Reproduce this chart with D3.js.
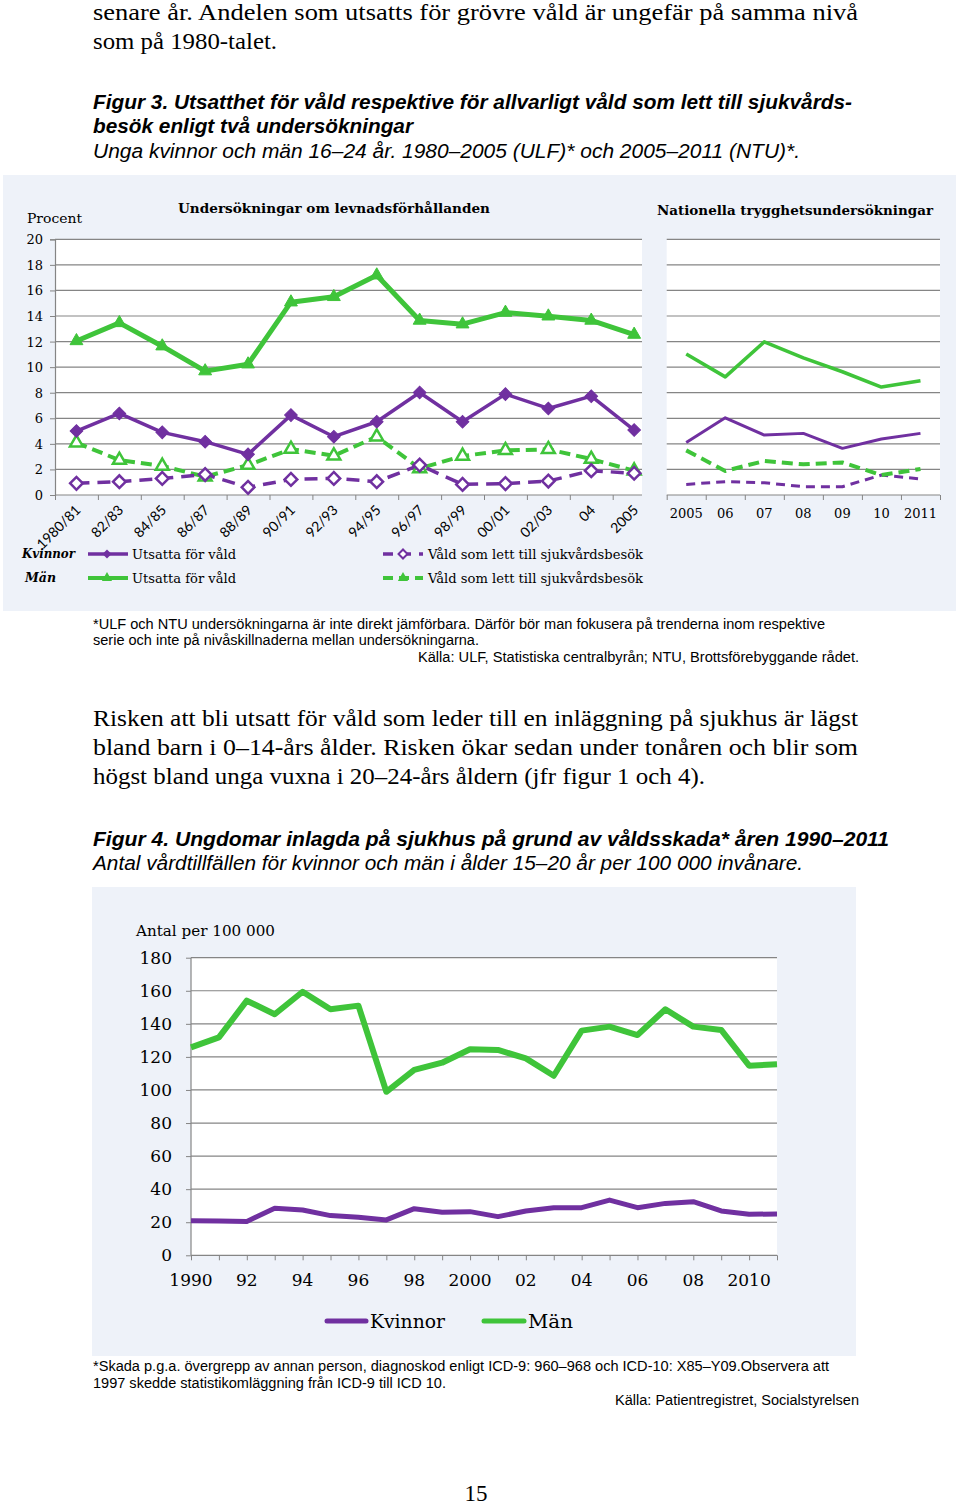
<!DOCTYPE html>
<html><head><meta charset="utf-8">
<script src="https://cdn.jsdelivr.net/npm/d3@7"></script>
<style>body{margin:0;background:#fff}svg{display:block}</style>
</head><body>
<script>
// ---------- DATA ----------
const ulfCategories = ["1980/81","82/83","84/85","86/87","88/89","90/91","92/93","94/95","96/97","98/99","00/01","02/03","04","2005"];
const ulfWomenViolence = [5.0,6.38,4.9,4.17,3.18,6.25,4.56,5.73,8.02,5.73,7.89,6.77,7.73,5.08];
const ulfMenViolence = [12.05,13.46,11.64,9.69,10.23,15.08,15.5,17.19,13.65,13.36,14.27,13.98,13.65,12.55];
const ulfWomenCare = [0.91,1.04,1.3,1.6,0.6,1.22,1.3,1.04,2.34,0.83,0.89,1.09,1.9,1.7];
const ulfMenCare = [4.09,2.73,2.27,1.43,2.34,3.59,3.07,4.56,2.08,3.05,3.49,3.57,2.81,1.9];
const fig3YTicks = [0,2,4,6,8,10,12,14,16,18,20];

const ntuCategories = ["2005","06","07","08","09","10","2011"];
const ntuWomenViolence = [4.11,6.04,4.69,4.82,3.65,4.38,4.82];
const ntuMenViolence = [11.02,9.24,11.98,10.73,9.64,8.44,8.93];
const ntuWomenCare = [0.83,1.04,0.96,0.65,0.65,1.56,1.25];
const ntuMenCare = [3.49,1.88,2.66,2.4,2.55,1.56,2.03];

const fig4Years = d3.range(1990, 2012);
const fig4Women = [20.9,20.7,20.5,28.4,27.4,24.0,23.0,21.4,28.2,26.0,26.4,23.4,26.8,28.8,28.8,33.4,28.8,31.4,32.4,26.8,24.8,25.0];
const fig4Men = [125.8,131.8,154.0,145.8,159.4,148.8,151.0,98.9,112.1,116.5,124.6,124.2,119.1,108.6,135.9,138.3,133.2,148.8,138.3,136.3,114.7,115.5];
const fig4YTicks = [0,20,40,60,80,100,120,140,160,180];
const fig4XLabels = {1990:"1990",1992:"92",1994:"94",1996:"96",1998:"98",2000:"2000",2002:"02",2004:"04",2006:"06",2008:"08",2010:"2010"};

// ---------- STYLE ----------
const PURPLE = "#7030a0", GREEN = "#3fc43a", GRID = "#858585", PANEL = "#eef2f9";
const SERIF = "'Liberation Serif', 'Times New Roman', serif";
const SANS = "'Liberation Sans', Arial, sans-serif";
const CHART = "'DejaVu Serif', serif";

const svg = d3.select("body").append("svg").attr("width",960).attr("height",1507);
svg.append("rect").attr("width",960).attr("height",1507).attr("fill","#fff");

function txt(x,y,s,o={}){
  const t = svg.append("text").attr("x",x).attr("y",y).text(s)
    .attr("font-family",o.family||SERIF).attr("font-size",o.size||22)
    .attr("fill",o.fill||"#000");
  if(o.weight) t.attr("font-weight",o.weight);
  if(o.style) t.attr("font-style",o.style);
  if(o.anchor) t.attr("text-anchor",o.anchor);
  if(o.len) t.attr("textLength",o.len).attr("lengthAdjust","spacingAndGlyphs");
  return t;
}

// ---------- PAGE TEXT ----------
txt(93,20,"senare år. Andelen som utsatts för grövre våld är ungefär på samma nivå",{size:23,len:765});
txt(93,49,"som på 1980-talet.",{size:23,len:184});
txt(93,109,"Figur 3. Utsatthet för våld respektive för allvarligt våld som lett till sjukvårds-",{family:SANS,size:19.5,weight:"bold",style:"italic",len:759});
txt(93,133,"besök enligt två undersökningar",{family:SANS,size:19.5,weight:"bold",style:"italic",len:320});
txt(93,158,"Unga kvinnor och män 16–24 år. 1980–2005 (ULF)* och 2005–2011 (NTU)*.",{family:SANS,size:19.5,style:"italic",len:707});

// ---------- FIGURE 3 ----------
svg.append("rect").attr("x",3).attr("y",175).attr("width",953).attr("height",436).attr("fill",PANEL);

const y3 = d3.scaleLinear().domain([0,20]).range([495,239.3]);
// Left chart (ULF)
const xL = d3.scaleLinear().domain([0,14]).range([55,655.6]);
const L_RIGHT = 642;
svg.append("rect").attr("x",55).attr("y",239.3).attr("width",L_RIGHT-55).attr("height",495-239.3).attr("fill","#fff");
const gGridL = svg.append("g");
fig3YTicks.filter(v=>v>0).forEach(v=>{
  gGridL.append("line").attr("x1",55).attr("x2",L_RIGHT).attr("y1",y3(v)).attr("y2",y3(v)).attr("stroke",GRID).attr("stroke-width",1.2);
});
// y axis
const yAxL = svg.append("g").attr("transform","translate(55,0)")
  .call(d3.axisLeft(y3).tickValues(fig3YTicks).tickSize(5).tickFormat(""));
yAxL.select(".domain").attr("stroke",GRID).attr("stroke-width",1.2);
yAxL.selectAll(".tick line").attr("stroke",GRID);
fig3YTicks.forEach(v=>txt(43,y3(v)+5,String(v),{family:CHART,size:13,anchor:"end"}));
txt(27,223,"Procent",{family:CHART,size:13,len:55});
// x axis
const xAxL = svg.append("g").attr("transform","translate(0,495)")
  .call(d3.axisBottom(xL).tickValues(d3.range(0,14)).tickSize(5).tickFormat(""));
xAxL.select(".domain").remove();
xAxL.selectAll(".tick line").attr("stroke",GRID);
svg.append("line").attr("x1",55).attr("x2",L_RIGHT).attr("y1",495).attr("y2",495).attr("stroke",GRID).attr("stroke-width",1.2);
ulfCategories.forEach((c,i)=>{
  const cx = xL(i+0.5);
  svg.append("text").attr("transform",`translate(${cx+5},${511}) rotate(-45)`)
    .attr("text-anchor","end").attr("font-family","Lato, 'Open Sans', sans-serif").attr("font-size",14).text(c);
});
txt(178,213,"Undersökningar om levnadsförhållanden",{family:CHART,size:13.5,weight:"bold",len:312});

const lineL = d3.line().x((d,i)=>xL(i+0.5)).y(d=>y3(d));
function series(g,data,lineGen,color,w,dash){
  g.append("path").attr("d",lineGen(data)).attr("fill","none").attr("stroke",color)
    .attr("stroke-width",w).attr("stroke-linejoin","round").attr("stroke-dasharray",dash||null);
}
const diamond = d3.symbol().type(d3.symbolSquare).size(80);
const triangle = d3.symbol().type(d3.symbolTriangle).size(72);
function markers(g,data,xf,sym,fill,stroke,sw){
  data.forEach((d,i)=>{
    const rot = sym===diamond ? 45 : 0;
    g.append("path").attr("d",sym()).attr("transform",`translate(${xf(i)},${y3(d)}) rotate(${rot})`)
      .attr("fill",fill).attr("stroke",stroke).attr("stroke-width",sw);
  });
}
const gL = svg.append("g");
const xiL = i=>xL(i+0.5);
series(gL,ulfMenCare,lineL,GREEN,4,"11,6");
series(gL,ulfWomenCare,lineL,PURPLE,3.5,"13,8");
series(gL,ulfWomenViolence,lineL,PURPLE,3.5);
series(gL,ulfMenViolence,lineL,GREEN,5);
markers(gL,ulfMenCare,xiL,triangle,"#fff",GREEN,2.5);
markers(gL,ulfWomenCare,xiL,diamond,"#fff",PURPLE,2.5);
markers(gL,ulfWomenViolence,xiL,diamond,PURPLE,PURPLE,1);
markers(gL,ulfMenViolence,xiL,triangle,GREEN,GREEN,1);

// Right chart (NTU)
const xR = d3.scaleLinear().domain([0,7]).range([666.7,940]);
svg.append("rect").attr("x",666.7).attr("y",239.3).attr("width",940-666.7).attr("height",495-239.3).attr("fill","#fff");
fig3YTicks.filter(v=>v>0).forEach(v=>{
  svg.append("line").attr("x1",666.7).attr("x2",940).attr("y1",y3(v)).attr("y2",y3(v)).attr("stroke",GRID).attr("stroke-width",1.2);
});
const xAxR = svg.append("g").attr("transform","translate(0,495)")
  .call(d3.axisBottom(xR).tickValues(d3.range(0,8)).tickSize(5).tickFormat(""));
xAxR.select(".domain").attr("stroke",GRID).attr("stroke-width",1.2).attr("d","M666.7,0H940");
xAxR.selectAll(".tick line").attr("stroke",GRID);
ntuCategories.forEach((c,i)=>txt(xR(i+0.5),518,c,{family:CHART,size:13,anchor:"middle"}));
txt(657,215,"Nationella trygghetsundersökningar",{family:CHART,size:13.5,weight:"bold",len:276});
const lineR = d3.line().x((d,i)=>xR(i+0.5)).y(d=>y3(d));
const gR = svg.append("g");
series(gR,ntuWomenCare,lineR,PURPLE,3,"9,6");
series(gR,ntuMenCare,lineR,GREEN,4,"11,6");
series(gR,ntuWomenViolence,lineR,PURPLE,3);
series(gR,ntuMenViolence,lineR,GREEN,3.5);

// Legend fig 3
txt(22,558,"Kvinnor",{family:CHART,size:13,weight:"bold",style:"italic",len:53});
txt(25,582,"Män",{family:CHART,size:13,weight:"bold",style:"italic",len:31});
const gLeg = svg.append("g");
gLeg.append("line").attr("x1",88).attr("x2",128).attr("y1",554).attr("y2",554).attr("stroke",PURPLE).attr("stroke-width",3.5);
gLeg.append("path").attr("d",d3.symbol().type(d3.symbolSquare).size(40)()).attr("transform","translate(107,554) rotate(45)").attr("fill",PURPLE);
gLeg.append("line").attr("x1",88).attr("x2",128).attr("y1",578).attr("y2",578).attr("stroke",GREEN).attr("stroke-width",4);
gLeg.append("path").attr("d",d3.symbol().type(d3.symbolTriangle).size(45)()).attr("transform","translate(107,578)").attr("fill",GREEN);
gLeg.append("line").attr("x1",383).attr("x2",423).attr("y1",554).attr("y2",554).attr("stroke",PURPLE).attr("stroke-width",3.5).attr("stroke-dasharray","10,8");
gLeg.append("path").attr("d",d3.symbol().type(d3.symbolSquare).size(40)()).attr("transform","translate(403,554) rotate(45)").attr("fill","#fff").attr("stroke",PURPLE).attr("stroke-width",2);
gLeg.append("line").attr("x1",383).attr("x2",423).attr("y1",578).attr("y2",578).attr("stroke",GREEN).attr("stroke-width",4).attr("stroke-dasharray","10,6");
gLeg.append("path").attr("d",d3.symbol().type(d3.symbolTriangle).size(45)()).attr("transform","translate(403,578)").attr("fill",GREEN);
txt(132,559,"Utsatta för våld",{family:CHART,size:13,len:104});
txt(132,583,"Utsatta för våld",{family:CHART,size:13,len:104});
txt(428,559,"Våld som lett till sjukvårdsbesök",{family:CHART,size:13,len:215});
txt(428,583,"Våld som lett till sjukvårdsbesök",{family:CHART,size:13,len:215});

// Footnote fig 3
txt(93,629,"*ULF och NTU undersökningarna är inte direkt jämförbara. Därför bör man fokusera på trenderna inom respektive",{family:SANS,size:14,len:732});
txt(93,645,"serie och inte på nivåskillnaderna mellan undersökningarna.",{family:SANS,size:14,len:386});
txt(418,662,"Källa: ULF, Statistiska centralbyrån; NTU, Brottsförebyggande rådet.",{family:SANS,size:14,len:441});

// Body text
txt(93,726,"Risken att bli utsatt för våld som leder till en inläggning på sjukhus är lägst",{size:23.5,len:765});
txt(93,755,"bland barn i 0–14-års ålder. Risken ökar sedan under tonåren och blir som",{size:23.5,len:765});
txt(93,784,"högst bland unga vuxna i 20–24-års åldern (jfr figur 1 och 4).",{size:23.5,len:612});

txt(93,846,"Figur 4. Ungdomar inlagda på sjukhus på grund av våldsskada* åren 1990–2011",{family:SANS,size:20,weight:"bold",style:"italic",len:796});
txt(93,870,"Antal vårdtillfällen för kvinnor och män i ålder 15–20 år per 100 000 invånare.",{family:SANS,size:20,style:"italic",len:710});

// ---------- FIGURE 4 ----------
svg.append("rect").attr("x",92).attr("y",887).attr("width",764).attr("height",469).attr("fill",PANEL);
const x4 = d3.scaleLinear().domain([1990,2011]).range([191,777]);
const y4 = d3.scaleLinear().domain([0,180]).range([1255.3,957.7]);
svg.append("rect").attr("x",191).attr("y",957.7).attr("width",777-191).attr("height",1255.3-957.7).attr("fill","#fff");
fig4YTicks.filter(v=>v>0).forEach(v=>{
  svg.append("line").attr("x1",191).attr("x2",777).attr("y1",y4(v)).attr("y2",y4(v)).attr("stroke",GRID).attr("stroke-width",1.2);
});
const y4Ax = svg.append("g").attr("transform","translate(191,0)")
  .call(d3.axisLeft(y4).tickValues(fig4YTicks).tickSize(5).tickFormat(""));
y4Ax.select(".domain").attr("stroke",GRID).attr("stroke-width",1.2).attr("d","M0,957.7V1255.3");
y4Ax.selectAll(".tick line").attr("stroke",GRID);
fig4YTicks.forEach(v=>txt(172,y4(v)+6,String(v),{family:CHART,size:17,anchor:"end"}));
const x4Ax = svg.append("g").attr("transform","translate(0,1255.3)")
  .call(d3.axisBottom(x4).tickValues(fig4Years).tickSize(5).tickFormat(""));
x4Ax.select(".domain").attr("stroke",GRID).attr("stroke-width",1.2).attr("d","M191,0H777");
x4Ax.selectAll(".tick line").attr("stroke",GRID);
Object.keys(fig4XLabels).forEach(k=>txt(x4(+k),1286,fig4XLabels[k],{family:CHART,size:17,anchor:"middle"}));
txt(136,936,"Antal per 100 000",{family:CHART,size:15,len:139});
const line4 = d3.line().x((d,i)=>x4(fig4Years[i])).y(d=>y4(d));
svg.append("path").attr("d",line4(fig4Women)).attr("fill","none").attr("stroke",PURPLE).attr("stroke-width",5).attr("stroke-linejoin","round");
svg.append("path").attr("d",line4(fig4Men)).attr("fill","none").attr("stroke",GREEN).attr("stroke-width",6).attr("stroke-linejoin","round");
svg.append("line").attr("x1",327).attr("x2",366).attr("y1",1321).attr("y2",1321).attr("stroke",PURPLE).attr("stroke-width",5).attr("stroke-linecap","round");
txt(370,1328,"Kvinnor",{family:CHART,size:18,len:75});
svg.append("line").attr("x1",484).attr("x2",524).attr("y1",1321).attr("y2",1321).attr("stroke",GREEN).attr("stroke-width",5).attr("stroke-linecap","round");
txt(528,1328,"Män",{family:CHART,size:18,len:45});

// Footnote fig 4
txt(93,1371,"*Skada p.g.a. övergrepp av annan person, diagnoskod enligt ICD-9: 960–968 och ICD-10: X85–Y09.Observera att",{family:SANS,size:14,len:736});
txt(93,1388,"1997 skedde statistikomläggning från ICD-9 till ICD 10.",{family:SANS,size:14,len:353});
txt(615,1405,"Källa: Patientregistret, Socialstyrelsen",{family:SANS,size:14,len:244});

txt(476,1501,"15",{size:23,anchor:"middle"});
</script>
</body></html>
